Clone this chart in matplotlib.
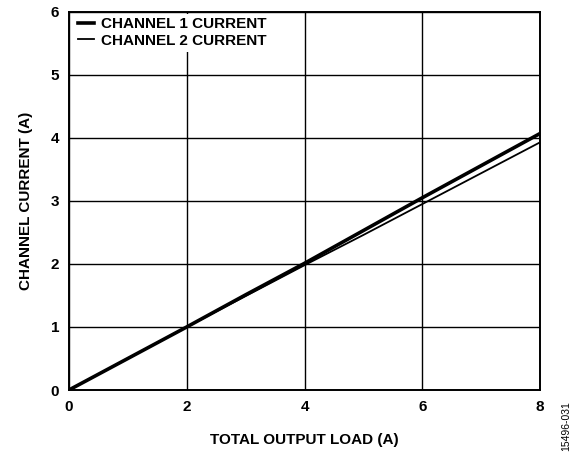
import matplotlib
matplotlib.use("Agg")
import matplotlib.pyplot as plt

load = [0, 1, 2, 3, 4, 5, 6, 7, 8]
ch1 = [0, 0.50, 1.00, 1.51, 2.01, 2.53, 3.05, 3.56, 4.07]
ch2 = [0, 0.50, 1.00, 1.49, 1.98, 2.46, 2.95, 3.44, 3.93]
xticks = [0, 2, 4, 6, 8]
yticks = [0, 1, 2, 3, 4, 5, 6]

plt.rcParams['font.family'] = ['Liberation Sans', 'DejaVu Sans']
plt.rcParams['font.weight'] = 'bold'

fig = plt.figure(figsize=(5.74, 4.53), dpi=100)
ax = fig.add_axes([0.120, 0.139, 0.821, 0.835])

ax.plot(load, ch1, color='black', lw=2.6, label='CHANNEL 1 CURRENT', zorder=3)
ax.plot(load, ch2, color='black', lw=1.3, label='CHANNEL 2 CURRENT', zorder=3)

ax.set_xlim(0, 8)
ax.set_ylim(0, 6)
ax.set_xticks(xticks)
ax.set_yticks(yticks)
ax.tick_params(length=0, labelsize=11, pad=7)
for lab in ax.get_xticklabels() + ax.get_yticklabels():
    lab.set_fontweight('bold')
ax.grid(True, color='black', lw=1.0)
for s in ax.spines.values():
    s.set_linewidth(1.4)

ax.set_xlabel('TOTAL OUTPUT LOAD (A)', fontsize=11, fontweight='bold', labelpad=14)
ax.set_ylabel('CHANNEL CURRENT (A)', fontsize=11, fontweight='bold', labelpad=13)

leg = ax.legend(loc='upper left', bbox_to_anchor=(0.012, 0.995), frameon=True,
                fontsize=11, handlelength=1.05, handletextpad=0.45, borderaxespad=0.0,
                borderpad=0.25, labelspacing=0.15, fancybox=False)
leg.get_frame().set_edgecolor('none')
leg.get_frame().set_facecolor('white')
leg.get_frame().set_alpha(1)
for t in leg.get_texts():
    t.set_fontweight('bold')

fig.text(0.987, 0.060, '15496-031', rotation=90, fontsize=7.5, fontweight='normal',
         ha='center', va='center')

fig.savefig('out.png', dpi=100)
